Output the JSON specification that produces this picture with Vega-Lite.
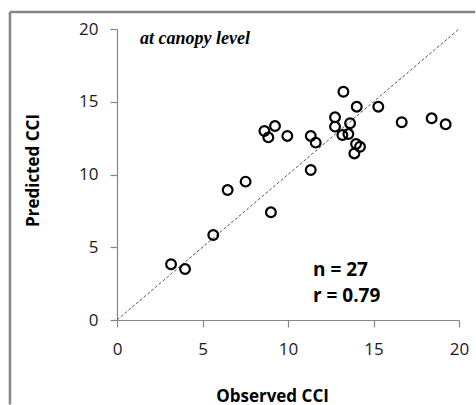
{
  "$schema": "https://vega.github.io/schema/vega-lite/v6.json",
  "width": 342,
  "height": 291,
  "autosize": {"type": "none"},
  "padding": {"left": 117, "top": 29, "right": 17, "bottom": 85},
  "background": "white",
  "config": {
    "view": {"stroke": null},
    "axis": {
      "grid": false,
      "labelFlush": false,
      "domainColor": "#868686",
      "tickColor": "#868686",
      "domainWidth": 1.2,
      "tickWidth": 1.2,
      "tickSize": 7,
      "labelFont": "Open Sans",
      "labelFontSize": 17,
      "labelColor": "#1a1a1a",
      "titleFont": "Open Sans",
      "titleFontSize": 17,
      "titleFontWeight": "bold",
      "titleColor": "#000000"
    }
  },
  "datasets": {
    "points": [
      {"obs": 14.02, "pred": 14.66},
      {"obs": 15.28, "pred": 14.66},
      {"obs": 13.24, "pred": 15.69},
      {"obs": 12.75, "pred": 13.93},
      {"obs": 12.75, "pred": 13.29},
      {"obs": 13.63, "pred": 13.52},
      {"obs": 16.65, "pred": 13.59},
      {"obs": 18.4, "pred": 13.86},
      {"obs": 19.22, "pred": 13.45},
      {"obs": 8.62, "pred": 12.99},
      {"obs": 9.24, "pred": 13.33},
      {"obs": 8.85, "pred": 12.55},
      {"obs": 9.96, "pred": 12.65},
      {"obs": 11.33, "pred": 12.65},
      {"obs": 11.62, "pred": 12.19},
      {"obs": 13.18, "pred": 12.71},
      {"obs": 13.53, "pred": 12.78},
      {"obs": 13.98, "pred": 12.1},
      {"obs": 14.21, "pred": 11.91},
      {"obs": 13.88, "pred": 11.45},
      {"obs": 11.33, "pred": 10.31},
      {"obs": 7.52, "pred": 9.51},
      {"obs": 6.47, "pred": 8.93},
      {"obs": 9.0, "pred": 7.4},
      {"obs": 5.63, "pred": 5.84},
      {"obs": 3.16, "pred": 3.83},
      {"obs": 3.98, "pred": 3.5}
    ],
    "one": [{"n": 1}]
  },
  "layer": [
    {
      "data": {"name": "one"},
      "mark": {"type": "rule", "color": "#868686", "strokeWidth": 2.5},
      "encoding": {
        "x": {"datum": -6.26, "type": "quantitative"},
        "y": {"datum": 21.17, "type": "quantitative"},
        "x2": {"datum": 20.95},
        "y2": {"datum": 21.17}
      }
    },
    {
      "data": {"name": "one"},
      "mark": {"type": "rule", "color": "#868686", "strokeWidth": 2.5},
      "encoding": {
        "x": {"datum": -6.26, "type": "quantitative"},
        "y": {"datum": 21.17, "type": "quantitative"},
        "x2": {"datum": -6.26},
        "y2": {"datum": -5.8}
      }
    },
    {
      "data": {"name": "one"},
      "mark": {"type": "rule", "color": "#555555", "strokeWidth": 1, "strokeDash": [3, 2]},
      "encoding": {
        "x": {"datum": 0, "type": "quantitative"},
        "y": {"datum": 0, "type": "quantitative"},
        "x2": {"datum": 20},
        "y2": {"datum": 20}
      }
    },
    {
      "data": {"name": "points"},
      "mark": {"type": "point", "shape": "circle", "filled": false, "color": "#000000", "strokeWidth": 2.2, "size": 95, "opacity": 1},
      "encoding": {
        "x": {
          "field": "obs", "type": "quantitative",
          "scale": {"domain": [0, 20], "nice": false, "zero": true},
          "axis": {"values": [0, 5, 10, 15, 20], "title": "Observed CCI", "labelPadding": 14, "titlePadding": 31, "titleX": 155}
        },
        "y": {
          "field": "pred", "type": "quantitative",
          "scale": {"domain": [0, 20], "nice": false, "zero": true},
          "axis": {"values": [0, 5, 10, 15, 20], "title": "Predicted CCI", "labelPadding": 12, "titlePadding": 36, "titleY": 141}
        }
      }
    },
    {
      "data": {"name": "one"},
      "mark": {"type": "text", "text": "at canopy level", "font": "Liberation Serif", "fontSize": 18, "fontStyle": "italic", "fontWeight": "bold", "align": "left", "baseline": "alphabetic", "color": "#000000"},
      "encoding": {
        "x": {"datum": 1.35, "type": "quantitative"},
        "y": {"datum": 19.0, "type": "quantitative"}
      }
    },
    {
      "data": {"name": "one"},
      "mark": {"type": "text", "text": "n = 27", "font": "Open Sans", "fontSize": 19, "fontWeight": "bold", "align": "left", "baseline": "alphabetic", "color": "#000000"},
      "encoding": {
        "x": {"datum": 11.46, "type": "quantitative"},
        "y": {"datum": 3.02, "type": "quantitative"}
      }
    },
    {
      "data": {"name": "one"},
      "mark": {"type": "text", "text": "r = 0.79", "font": "Open Sans", "fontSize": 19, "fontWeight": "bold", "align": "left", "baseline": "alphabetic", "color": "#000000"},
      "encoding": {
        "x": {"datum": 11.46, "type": "quantitative"},
        "y": {"datum": 1.24, "type": "quantitative"}
      }
    }
  ]
}
